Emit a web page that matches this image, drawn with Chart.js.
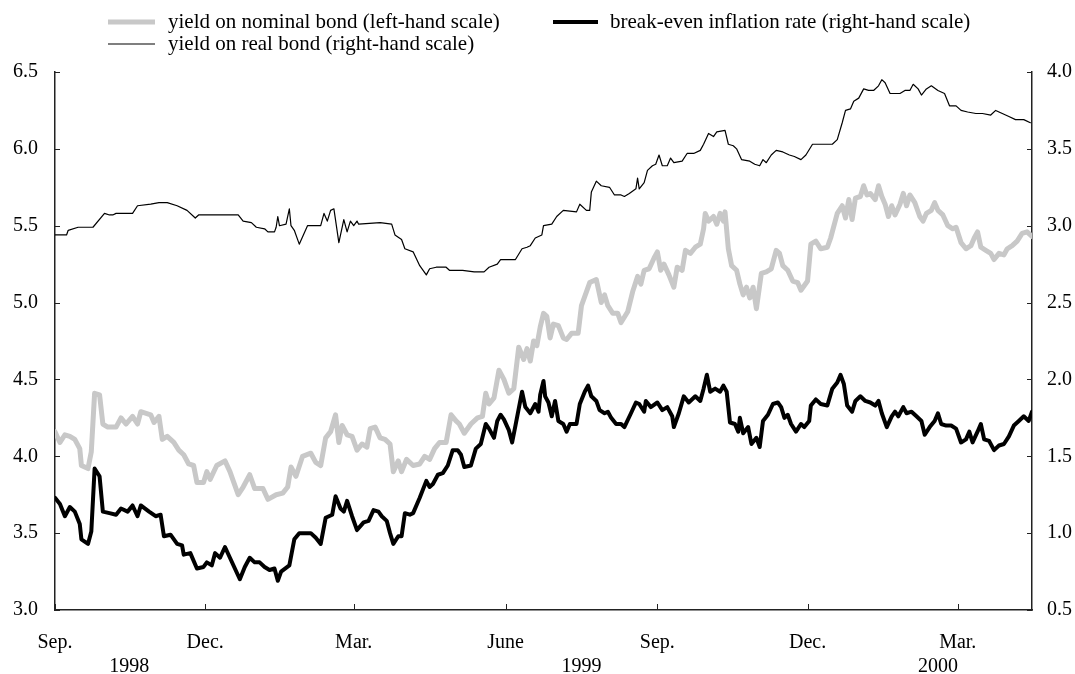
<!DOCTYPE html>
<html lang="en">
<head>
<meta charset="UTF-8">
<title>Nominal and real bond yields</title>
<script src="https://cdn.jsdelivr.net/npm/chart.js@4"></script>
<style>
  body { margin: 0; background: #fff; }
  #wrap { width: 1075px; height: 674px; }
</style>
</head>
<body>
<div id="wrap"><canvas id="myChart"></canvas></div>
<script>
// x values are days counted from 1 Sep 1998

// nominal bond yield, % (left-hand scale)
const nominalDays = [0,3,6,9,12,15,16,20,22,24,
  27,29,32,37,40,43,47,50,52,58,
  60,63,65,68,72,75,78,81,84,86,
  90,92,94,98,103,106,108,111,114,118,
  121,126,129,134,138,141,143,146,150,155,
  158,161,164,167,170,172,174,177,180,183,
  186,189,191,194,197,200,203,205,208,210,
  213,217,221,224,227,230,233,237,240,243,
  245,248,252,256,259,261,263,266,269,272,
  275,278,281,284,286,288,290,292,294,296,
  298,300,302,305,308,310,313,317,319,322,
  324,328,331,333,335,338,341,343,347,350,
  353,355,357,360,363,365,367,369,372,375,
  377,380,382,385,388,391,393,394,396,399,
  401,403,405,406,408,410,413,415,417,419,
  421,423,425,428,431,434,437,439,441,444,
  447,450,452,456,458,461,464,468,470,474,
  477,479,481,483,485,488,490,492,494,497,
  499,501,503,505,507,509,512,514,516,518,
  521,524,526,528,531,533,535,538,541,544,
  546,549,552,555,557,559,561,564,567,569,
  572,575,577,580,583,586,589,592];
const nominalYield = [4.16,4.09,4.14,4.13,4.11,4.05,3.94,3.92,4.03,4.41,
  4.40,4.21,4.19,4.19,4.25,4.21,4.26,4.21,4.29,4.27,
  4.22,4.26,4.11,4.13,4.09,4.04,4.01,3.95,3.94,3.83,
  3.83,3.90,3.85,3.94,3.97,3.90,3.84,3.75,3.80,3.88,
  3.79,3.79,3.72,3.75,3.76,3.80,3.93,3.87,4.00,4.02,
  3.96,3.94,4.12,4.16,4.27,4.09,4.20,4.14,4.13,4.04,
  4.08,4.06,4.18,4.19,4.12,4.11,4.08,3.90,3.97,3.90,
  3.98,3.94,3.95,4.00,3.98,4.05,4.09,4.09,4.27,4.23,
  4.21,4.15,4.21,4.25,4.26,4.41,4.34,4.38,4.56,4.50,
  4.41,4.44,4.71,4.63,4.70,4.62,4.75,4.72,4.84,4.93,
  4.91,4.77,4.86,4.85,4.77,4.76,4.80,4.80,4.98,5.07,
  5.13,5.15,5.00,5.05,4.98,4.93,4.93,4.87,4.94,5.07,
  5.17,5.12,5.21,5.22,5.29,5.33,5.21,5.25,5.18,5.10,
  5.23,5.21,5.34,5.32,5.36,5.38,5.48,5.58,5.53,5.56,
  5.51,5.58,5.53,5.59,5.35,5.24,5.21,5.12,5.05,5.10,
  5.03,5.10,4.96,5.19,5.20,5.22,5.34,5.32,5.24,5.21,
  5.14,5.13,5.08,5.14,5.38,5.40,5.35,5.36,5.42,5.58,
  5.63,5.55,5.67,5.54,5.68,5.69,5.76,5.70,5.71,5.67,
  5.76,5.69,5.64,5.56,5.63,5.57,5.64,5.71,5.63,5.70,
  5.65,5.56,5.53,5.58,5.60,5.65,5.60,5.57,5.50,5.48,
  5.49,5.39,5.35,5.37,5.42,5.46,5.36,5.34,5.32,5.28,
  5.32,5.31,5.35,5.37,5.40,5.45,5.46,5.43];

// real bond yield, % (right-hand scale)
const realDays = [0,7,8,14,23,30,33,35,37,47,
  50,58,63,68,74,80,85,87,98,111,
  114,119,122,127,129,133,134,135,136,140,
  142,143,145,148,153,161,163,165,167,169,
  172,175,177,179,181,183,184,197,204,206,
  210,212,217,221,225,227,231,237,239,247,
  254,260,263,268,270,279,283,286,288,291,
  295,296,301,304,308,316,318,322,324,325,
  328,331,336,339,343,345,348,352,353,354,
  357,359,362,364,366,368,371,373,375,380,
  383,387,391,393,396,399,401,406,408,411,
  413,416,421,424,427,429,431,434,437,441,
  445,448,452,455,459,464,469,471,474,477,
  479,482,484,487,490,493,496,499,501,503,
  506,509,512,515,518,520,523,525,528,531,
  535,539,542,546,549,553,558,562,567,570,
  574,578,582,587,591];
const realYield = [2.94,2.94,2.97,2.99,2.99,3.08,3.07,3.07,3.08,3.08,
  3.13,3.14,3.15,3.15,3.13,3.10,3.05,3.07,3.07,3.07,
  3.03,3.02,2.99,2.98,2.96,2.96,2.99,3.06,3.00,3.01,
  3.11,3.00,2.97,2.88,3.00,3.00,3.08,3.03,3.10,3.11,
  2.89,3.04,2.96,3.03,3.00,3.03,3.01,3.02,3.01,2.94,
  2.91,2.85,2.83,2.74,2.68,2.72,2.73,2.73,2.71,2.71,
  2.70,2.70,2.73,2.75,2.78,2.78,2.85,2.86,2.87,2.92,
  2.94,3.00,3.01,3.06,3.10,3.09,3.14,3.10,3.10,3.22,
  3.29,3.26,3.25,3.20,3.20,3.19,3.21,3.24,3.31,3.24,
  3.28,3.36,3.39,3.40,3.46,3.39,3.39,3.44,3.41,3.42,
  3.47,3.47,3.49,3.53,3.60,3.58,3.61,3.62,3.53,3.52,
  3.50,3.43,3.42,3.40,3.39,3.43,3.41,3.46,3.49,3.48,
  3.46,3.45,3.43,3.46,3.53,3.53,3.53,3.53,3.56,3.67,
  3.75,3.76,3.81,3.83,3.89,3.88,3.88,3.91,3.95,3.93,
  3.86,3.86,3.86,3.88,3.88,3.92,3.89,3.85,3.89,3.91,
  3.88,3.86,3.78,3.78,3.75,3.74,3.73,3.73,3.72,3.75,
  3.73,3.71,3.69,3.69,3.67];

// break-even inflation rate, % (right-hand scale)
const breakEvenDays = [0,3,6,9,12,15,16,20,22,24,
  27,29,33,37,40,44,47,50,52,57,
  61,64,66,70,74,77,78,82,86,90,
  92,95,97,100,103,106,109,112,115,118,
  121,124,127,130,133,135,137,142,145,148,
  155,158,161,164,168,170,173,175,177,180,
  183,187,190,193,196,198,201,203,205,208,
  210,212,215,217,221,225,227,229,232,235,
  238,241,244,246,248,252,255,258,261,263,
  266,268,270,272,275,277,279,283,285,288,
  291,293,294,296,297,299,301,303,305,308,
  310,312,316,318,321,323,325,328,330,333,
  335,337,340,343,345,349,352,354,357,358,
  361,365,368,371,374,375,378,381,384,388,
  391,393,395,397,400,403,405,407,409,412,
  414,415,417,420,422,425,427,429,432,435,
  438,440,442,444,446,449,452,454,457,458,
  461,464,468,471,474,476,478,480,483,485,
  488,491,494,497,499,501,504,507,509,511,
  514,516,519,522,525,527,530,533,535,537,
  540,543,546,549,552,554,556,559,561,563,
  566,569,572,575,578,581,584,587,590,592];
const breakEven = [1.23,1.19,1.11,1.17,1.14,1.06,0.96,0.93,1.01,1.42,
  1.37,1.14,1.13,1.12,1.16,1.14,1.18,1.11,1.18,1.14,
  1.11,1.12,0.98,0.99,0.93,0.92,0.86,0.87,0.77,0.78,
  0.81,0.79,0.87,0.84,0.91,0.84,0.77,0.70,0.78,0.84,
  0.81,0.81,0.78,0.76,0.77,0.69,0.75,0.79,0.96,1.00,
  1.00,0.97,0.93,1.10,1.12,1.24,1.16,1.14,1.21,1.11,
  1.02,1.07,1.08,1.15,1.14,1.11,1.08,1.00,0.93,0.98,
  0.98,1.13,1.12,1.13,1.23,1.34,1.30,1.32,1.38,1.39,
  1.44,1.54,1.54,1.51,1.43,1.44,1.55,1.58,1.71,1.68,
  1.62,1.73,1.77,1.74,1.67,1.59,1.70,1.92,1.82,1.78,
  1.84,1.79,1.90,1.99,1.89,1.85,1.76,1.86,1.73,1.71,
  1.66,1.71,1.71,1.84,1.92,1.96,1.89,1.86,1.80,1.78,
  1.79,1.75,1.71,1.71,1.69,1.78,1.85,1.84,1.79,1.86,
  1.82,1.85,1.80,1.82,1.76,1.69,1.78,1.89,1.85,1.89,
  1.86,1.94,2.03,1.92,1.94,1.92,1.96,1.92,1.72,1.71,
  1.66,1.75,1.65,1.69,1.58,1.62,1.56,1.73,1.77,1.84,
  1.85,1.82,1.75,1.77,1.71,1.66,1.71,1.69,1.73,1.83,
  1.87,1.84,1.83,1.94,1.98,2.03,1.97,1.83,1.79,1.86,
  1.89,1.86,1.85,1.83,1.86,1.78,1.69,1.76,1.79,1.76,
  1.82,1.78,1.79,1.76,1.73,1.64,1.69,1.73,1.78,1.71,
  1.70,1.70,1.68,1.59,1.61,1.66,1.59,1.66,1.71,1.61,
  1.60,1.54,1.57,1.58,1.63,1.70,1.73,1.76,1.73,1.79];

// x axis: month ticks and the year line under them
const monthTickDays = [0, 91, 181, 273, 365, 456, 547];
const monthLabels = ['Sep.', 'Dec.', 'Mar.', 'June', 'Sep.', 'Dec.', 'Mar.'];
const yearDays = [45, 319, 535];
const yearLabels = ['1998', '1999', '2000'];

const SERIF = '"Liberation Serif", "Times New Roman", serif';
Chart.defaults.font.family = SERIF;
Chart.defaults.font.size = 20;
Chart.defaults.color = '#000';

function points(xs, ys) {
  return xs.map((d, i) => ({ x: d, y: ys[i] }));
}

// legend spots: [line start, line end, text x, baseline]
const legendSpots = [
  [108, 155, 168, 28],
  [553, 598, 610, 28],
  [108, 155, 168, 50]
];

const extras = {
  id: 'extras',
  afterDraw(chart) {
    const { ctx, chartArea: a, scales } = chart;
    ctx.save();

    // short ticks pointing into the plot
    ctx.strokeStyle = '#222';
    ctx.lineWidth = 1;
    ctx.beginPath();
    scales.y.ticks.forEach(t => {
      const y = Math.round(scales.y.getPixelForValue(t.value)) + 0.5;
      ctx.moveTo(a.left, y); ctx.lineTo(a.left + 5, y);
    });
    scales.y1.ticks.forEach(t => {
      const y = Math.round(scales.y1.getPixelForValue(t.value)) + 0.5;
      ctx.moveTo(a.right, y); ctx.lineTo(a.right - 5, y);
    });
    monthTickDays.forEach(d => {
      const x = Math.round(scales.x.getPixelForValue(d)) + 0.5;
      ctx.moveTo(x, a.bottom); ctx.lineTo(x, a.bottom - 6);
    });
    ctx.stroke();

    ctx.fillStyle = '#000';
    ctx.font = '20px ' + SERIF;
    ctx.textAlign = 'center';
    ctx.textBaseline = 'alphabetic';
    yearLabels.forEach((label, i) => {
      ctx.fillText(label, scales.x.getPixelForValue(yearDays[i]), 672);
    });

    // legend
    ctx.font = '21px ' + SERIF;
    ctx.textAlign = 'left';
    chart.data.datasets.forEach((ds, i) => {
      const [x0, x1, tx, base] = legendSpots[i];
      ctx.strokeStyle = ds.borderColor;
      ctx.lineWidth = ds.borderWidth;
      ctx.beginPath();
      ctx.moveTo(x0, base - 6);
      ctx.lineTo(x1, base - 6);
      ctx.stroke();
      ctx.fillText(ds.label, tx, base);
    });
    ctx.restore();
  }
};

const data = {
  datasets: [
    {
      label: 'yield on nominal bond (left-hand scale)',
      data: points(nominalDays, nominalYield),
      yAxisID: 'y',
      borderColor: '#c8c8c8',
      borderWidth: 5
    },
    {
      label: 'break-even inflation rate (right-hand scale)',
      data: points(breakEvenDays, breakEven),
      yAxisID: 'y1',
      borderColor: '#000',
      borderWidth: 4
    },
    {
      label: 'yield on real bond (right-hand scale)',
      data: points(realDays, realYield),
      yAxisID: 'y1',
      borderColor: '#000',
      borderWidth: 1.2
    }
  ]
};

const config = {
  type: 'line',
  data: data,
  options: {
    responsive: true,
    maintainAspectRatio: false,
    animation: false,
    layout: { padding: { top: 72, left: 0, right: 0, bottom: 0 } },
    elements: {
      point: { radius: 0 },
      line: { tension: 0, borderJoinStyle: 'round', borderCapStyle: 'round' }
    },
    plugins: {
      legend: { display: false },
      tooltip: { enabled: false }
    },
    scales: {
      x: {
        type: 'linear',
        min: 0,
        max: 592,
        afterFit: s => { s.height = 64; },
        afterBuildTicks: s => { s.ticks = monthTickDays.map(v => ({ value: v })); },
        grid: { display: false, drawTicks: false },
        border: { display: true, color: '#222', width: 1.5 },
        ticks: {
          autoSkip: false,
          maxRotation: 0,
          padding: 21,
          callback: (v, i) => monthLabels[i]
        }
      },
      y: {
        position: 'left',
        min: 3.0,
        max: 6.5,
        afterFit: s => { s.width = 55; },
        grid: { display: false, drawTicks: false },
        border: { display: true, color: '#222', width: 1.5 },
        ticks: { stepSize: 0.5, padding: 17, callback: v => v.toFixed(1) }
      },
      y1: {
        position: 'right',
        min: 0.5,
        max: 4.0,
        afterFit: s => { s.width = 43; },
        grid: { display: false, drawTicks: false },
        border: { display: true, color: '#222', width: 1.5 },
        ticks: { stepSize: 0.5, padding: 15, callback: v => v.toFixed(1) }
      }
    }
  },
  plugins: [extras]
};

new Chart(document.getElementById('myChart').getContext('2d'), config);
</script>
</body>
</html>
